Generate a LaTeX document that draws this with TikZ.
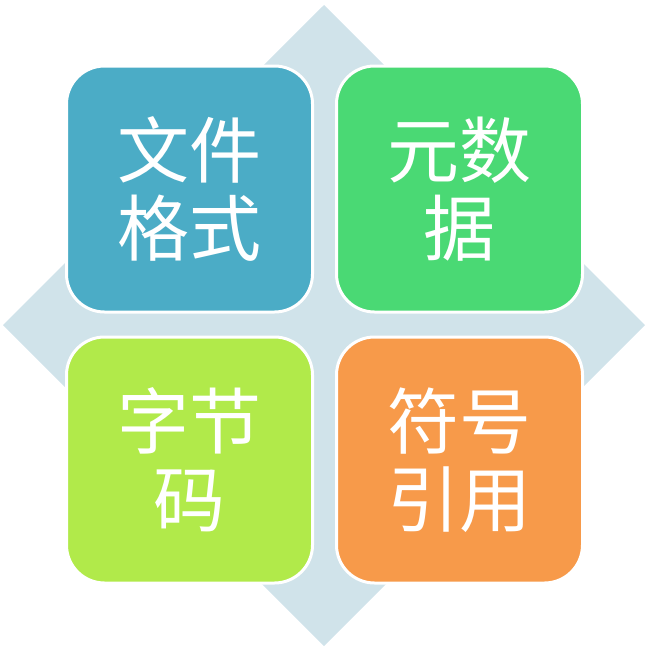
\documentclass[tikz,border=0pt]{standalone}
\usepackage{fontspec}
\newfontfamily\cjk{Noto Sans CJK SC}
\definecolor{diam}{HTML}{D0E3EA}
\definecolor{cblue}{HTML}{4BACC6}
\definecolor{cgreen}{HTML}{4AD974}
\definecolor{clime}{HTML}{B1EA4A}
\definecolor{corange}{HTML}{F79A4A}
\tikzset{
  tile/.style={draw=white, line width=3pt, rounded corners=38pt,
    minimum width=246pt, minimum height=246pt, inner sep=0pt,
    text=white, align=center,
    font=\cjk\fontsize{72pt}{78pt}\selectfont},
}
\begin{document}
\begin{tikzpicture}[x=1pt,y=-1pt]
\useasboundingbox (0,0) rectangle (670,659);
\fill[diam] (324,5) coordinate (dt) -- (645,325) coordinate (dr) -- (324,646) coordinate (db) -- (3,325) coordinate (dl) -- cycle;
\node[tile, fill=cblue] (fmt) at (189.5,189) {文件\\格式};
\node[tile, fill=cgreen] (meta) at (459.5,189) {元数\\据};
\node[tile, fill=clime] (byte) at (189.5,460) {字节\\码};
\node[tile, fill=corange] (sym) at (459.5,460) {符号\\引用};
\end{tikzpicture}
\end{document}
